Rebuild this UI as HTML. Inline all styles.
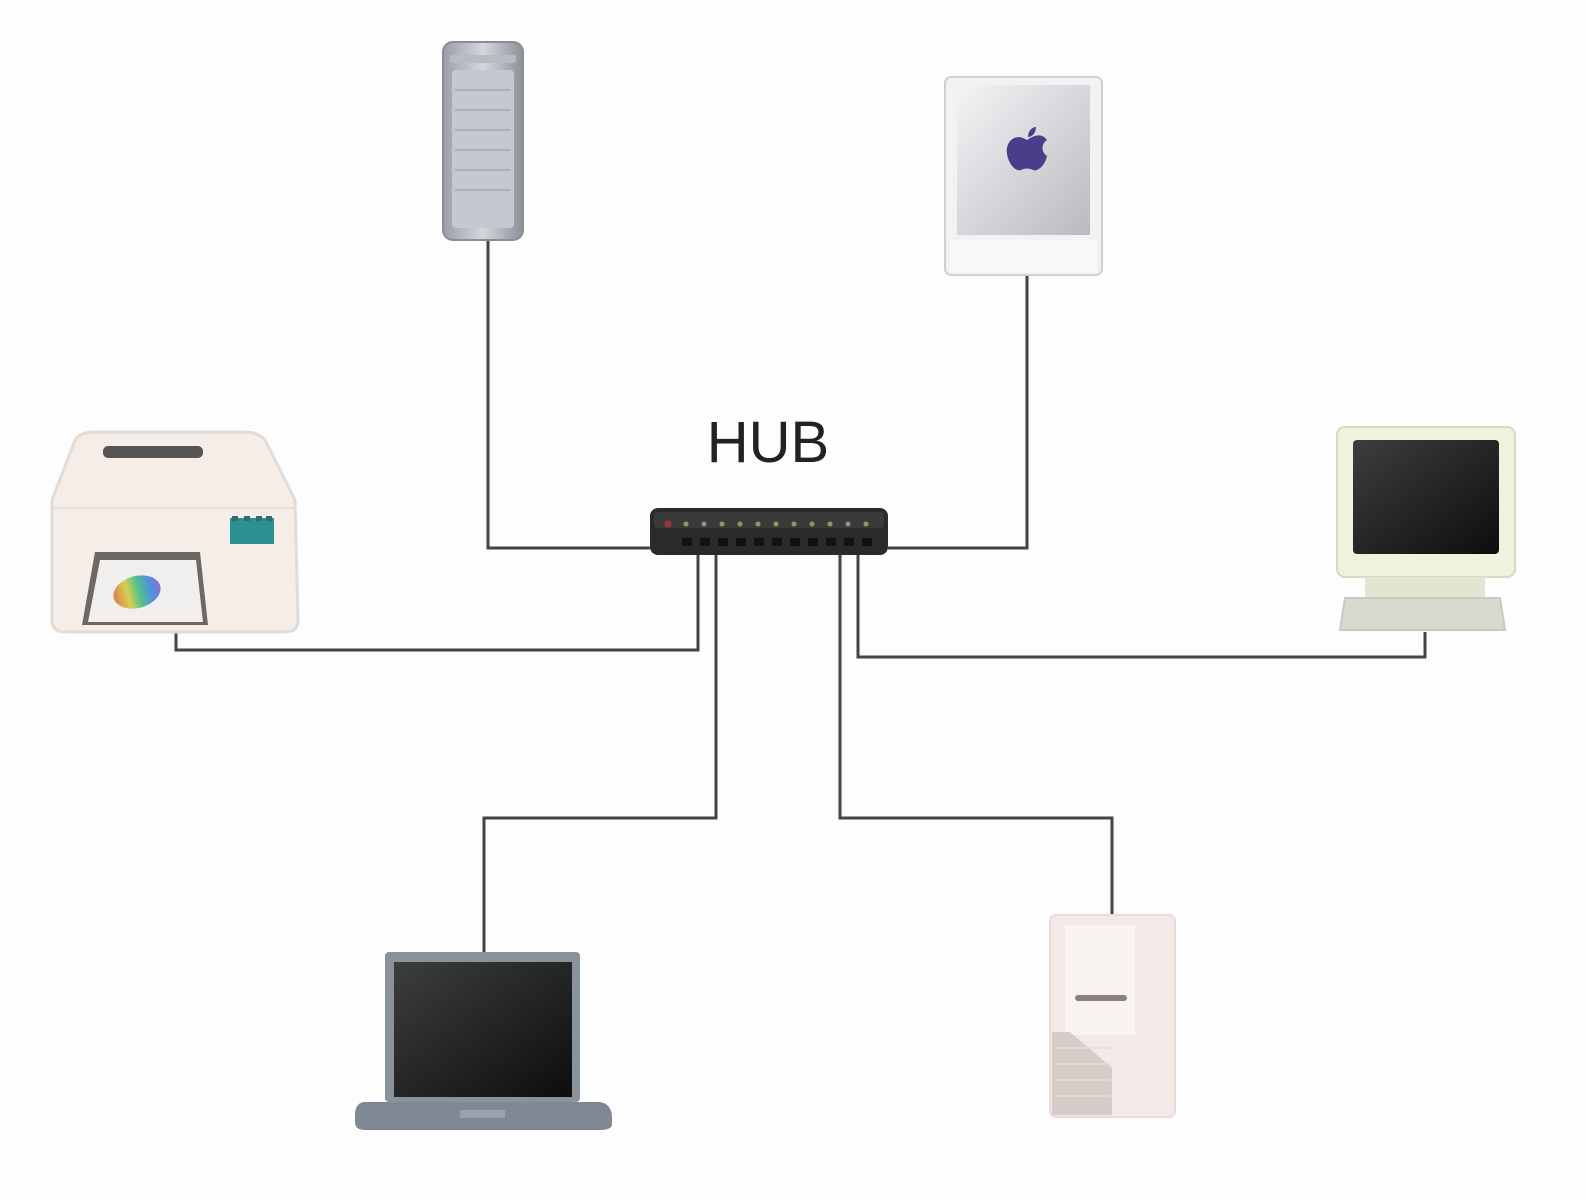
<!DOCTYPE html>
<html><head><meta charset="utf-8"><style>
html,body{margin:0;padding:0;background:#fdfdfd;}
svg{display:block}
</style></head><body>
<svg width="1586" height="1200" viewBox="0 0 1586 1200" xmlns="http://www.w3.org/2000/svg">
<defs>
<linearGradient id="gTower" x1="0" x2="1"><stop offset="0" stop-color="#9a9ea6"/><stop offset="0.5" stop-color="#d4d7dc"/><stop offset="1" stop-color="#8d9198"/></linearGradient>
<linearGradient id="gCube" x1="0" y1="0" x2="1" y2="1"><stop offset="0" stop-color="#f4f4f6"/><stop offset="1" stop-color="#b9bac0"/></linearGradient>
<linearGradient id="gScr" x1="0" y1="0" x2="1" y2="1"><stop offset="0" stop-color="#3c3f3e"/><stop offset="1" stop-color="#0d0d0d"/></linearGradient>
<linearGradient id="gRain" x1="0" x2="1"><stop offset="0" stop-color="#e07a50"/><stop offset="0.3" stop-color="#d8d050"/><stop offset="0.55" stop-color="#50c090"/><stop offset="0.8" stop-color="#5090e0"/><stop offset="1" stop-color="#9070d0"/></linearGradient>
</defs>
<g fill="none" stroke="#444" stroke-width="3">
<polyline points="488,240 488,548 650,548"/>
<polyline points="1027,275 1027,548 888,548"/>
<polyline points="176,632 176,650 698,650 698,555"/>
<polyline points="1425,632 1425,657 858,657 858,555"/>
<polyline points="484,952 484,818 716,818 716,555"/>
<polyline points="1112,915 1112,818 840,818 840,555"/>
</g>
<!-- HUB -->
<text x="768" y="462" font-family="Liberation Sans, sans-serif" font-size="58" text-anchor="middle" fill="#222">HUB</text>
<rect x="650" y="508" width="238" height="47" rx="8" fill="#2a2a2a"/>
<rect x="654" y="512" width="230" height="16" rx="4" fill="#3a3a3a"/>
<circle cx="668" cy="524" r="3.5" fill="#a03040"/>
<g fill="#8a9a60">
<circle cx="686" cy="524" r="2.5"/><circle cx="704" cy="524" r="2.5"/><circle cx="722" cy="524" r="2.5"/><circle cx="740" cy="524" r="2.5"/><circle cx="758" cy="524" r="2.5"/><circle cx="776" cy="524" r="2.5"/><circle cx="794" cy="524" r="2.5"/><circle cx="812" cy="524" r="2.5"/><circle cx="830" cy="524" r="2.5"/><circle cx="848" cy="524" r="2.5"/><circle cx="866" cy="524" r="2.5"/>
</g>
<g fill="#111">
<rect x="682" y="538" width="10" height="8"/><rect x="700" y="538" width="10" height="8"/><rect x="718" y="538" width="10" height="8"/><rect x="736" y="538" width="10" height="8"/><rect x="754" y="538" width="10" height="8"/><rect x="772" y="538" width="10" height="8"/><rect x="790" y="538" width="10" height="8"/><rect x="808" y="538" width="10" height="8"/><rect x="826" y="538" width="10" height="8"/><rect x="844" y="538" width="10" height="8"/><rect x="862" y="538" width="10" height="8"/>
</g>
<!-- Tower Mac -->
<rect x="443" y="42" width="80" height="198" rx="10" fill="url(#gTower)" stroke="#8a8d94" stroke-width="2"/>
<rect x="450" y="55" width="66" height="8" rx="3" fill="#b8bbc1"/>
<rect x="452" y="70" width="62" height="158" rx="4" fill="#c5c8ce"/>
<g stroke="#a4a7ae" stroke-width="1.5"><line x1="455" y1="90" x2="511" y2="90"/><line x1="455" y1="110" x2="511" y2="110"/><line x1="455" y1="130" x2="511" y2="130"/><line x1="455" y1="150" x2="511" y2="150"/><line x1="455" y1="170" x2="511" y2="170"/><line x1="455" y1="190" x2="511" y2="190"/></g>
<!-- Cube Mac -->
<rect x="945" y="77" width="157" height="198" rx="6" fill="#f2f2f3" stroke="#d0d0d4" stroke-width="2"/>
<rect x="957" y="85" width="133" height="150" fill="url(#gCube)"/>
<rect x="950" y="240" width="147" height="32" fill="#f8f8f8"/>
<path d="M1027 140 c-12 -8 -22 2 -20 14 c2 12 10 18 14 16 c4 -2 8 -2 12 0 c4 2 12 -4 14 -14 c-6 -4 -6 -12 0 -16 c-6 -8 -14 -4 -20 0z M1028 137 c0 -6 4 -10 8 -10 c0 6 -4 10 -8 10z" fill="#4a3e8a"/>
<!-- Printer -->
<path d="M75 440 Q80 432 95 432 L245 432 Q258 432 265 440 L295 500 L298 620 Q298 632 285 632 L65 632 Q52 632 52 620 L52 500 Z" fill="#f5eee8" stroke="#e3dcd6" stroke-width="3"/>
<rect x="103" y="446" width="100" height="12" rx="5" fill="#555"/>
<line x1="54" y1="508" x2="296" y2="508" stroke="#e6dfd9" stroke-width="2"/>
<rect x="230" y="518" width="44" height="26" fill="#2a9090"/>
<g fill="#3a6a6a"><rect x="232" y="516" width="6" height="5"/><rect x="244" y="516" width="6" height="5"/><rect x="256" y="516" width="6" height="5"/><rect x="266" y="516" width="6" height="5"/></g>
<path d="M95 552 L200 552 L208 625 L82 625 Z" fill="#6d6864"/>
<path d="M100 560 L196 560 L203 622 L88 622 Z" fill="#f0efee"/>
<ellipse cx="137" cy="592" rx="24" ry="16" fill="url(#gRain)" transform="rotate(-15 137 592)"/>
<!-- Monitor -->
<rect x="1337" y="427" width="178" height="150" rx="8" fill="#f1f2dd" stroke="#d8d9c4" stroke-width="2"/>
<rect x="1353" y="440" width="146" height="114" rx="4" fill="url(#gScr)"/>
<rect x="1365" y="577" width="120" height="20" fill="#e3e4d2"/>
<path d="M1345 598 L1500 598 L1505 630 L1340 630 Z" fill="#d9d9d0" stroke="#c9c9c0" stroke-width="2"/>
<!-- Laptop -->
<rect x="385" y="952" width="195" height="150" rx="4" fill="#8a929b"/>
<rect x="394" y="962" width="178" height="135" fill="url(#gScr)"/>
<path d="M365 1102 L600 1102 Q612 1104 612 1118 L612 1124 Q612 1130 600 1130 L365 1130 Q355 1130 355 1122 L355 1112 Q357 1102 365 1102Z" fill="#7f8894"/>
<rect x="460" y="1110" width="45" height="8" fill="#9aa2ad"/>
<!-- Tower PC -->
<rect x="1050" y="915" width="125" height="202" rx="6" fill="#f3eae8" stroke="#e6dcda" stroke-width="2"/>
<rect x="1065" y="925" width="70" height="110" fill="#f8f2f0"/>
<rect x="1075" y="995" width="52" height="6" rx="3" fill="#8a807e"/>
<path d="M1052 1032 L1070 1032 L1112 1068 L1112 1115 L1052 1115 Z" fill="#d8ccc8"/>
<g stroke="#e6dcda" stroke-width="1.5"><line x1="1054" y1="1048" x2="1110" y2="1048"/><line x1="1054" y1="1064" x2="1110" y2="1064"/><line x1="1054" y1="1080" x2="1110" y2="1080"/><line x1="1054" y1="1096" x2="1110" y2="1096"/></g>
</svg>
</body></html>
